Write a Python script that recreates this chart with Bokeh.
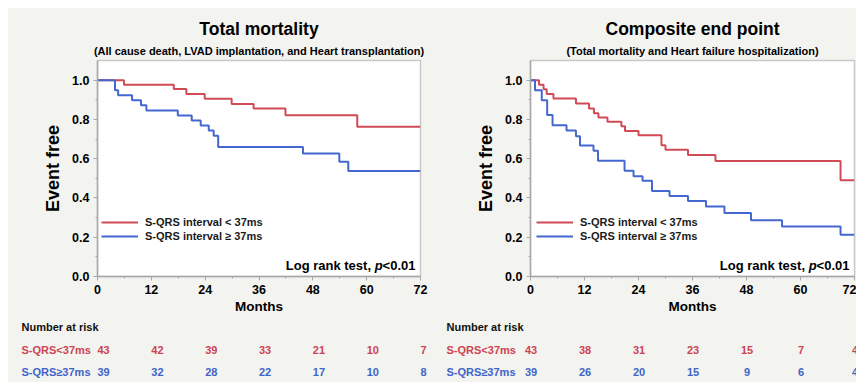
from bokeh.plotting import figure
from bokeh.layouts import row, column
from bokeh.models import (Range1d, Legend, LegendItem, Label, Title, FixedTicker,
                          NumeralTickFormatter, Spacer)
from bokeh.core.properties import value
from bokeh.embed import file_html
from bokeh.resources import INLINE

# ---------------- data ----------------
month_ticks = [0, 12, 24, 36, 48, 60, 72]
month_minor = [6, 18, 30, 42, 54, 66]
surv_ticks = [0.0, 0.2, 0.4, 0.6, 0.8, 1.0]
surv_minor = [0.1, 0.3, 0.5, 0.7, 0.9]

label_low = "S-QRS interval < 37ms"
label_high = "S-QRS interval \u2265 37ms"
risk_low_name = "S-QRS<37ms"
risk_high_name = "S-QRS\u226537ms"

# Total mortality
tm_low_t = [0, 5.9, 17.0, 19.8, 23.9, 29.9, 34.8, 41.9, 57.9, 72]
tm_low_s = [1.0, 0.977, 0.955, 0.929, 0.905, 0.879, 0.855, 0.821, 0.762, 0.762]
tm_high_t = [0, 3.9, 4.6, 7.7, 9.7, 10.9, 17.9, 21.0, 23.0, 24.8, 25.9, 26.9, 45.8, 53.9, 55.9, 72]
tm_high_s = [1.0, 0.949, 0.923, 0.897, 0.872, 0.846, 0.820, 0.794, 0.769, 0.743, 0.717, 0.660,
             0.626, 0.585, 0.537, 0.537]
tm_risk_low = [43, 42, 39, 33, 21, 10, 7]
tm_risk_high = [39, 32, 28, 22, 17, 10, 8]

# Composite end point
ce_low_t = [0, 1.9, 2.9, 3.6, 5.1, 10.1, 13.0, 14.1, 15.1, 17.1, 20.2, 21.0, 24.0, 29.1, 30.0,
            35.0, 41.1, 68.9, 72]
ce_low_s = [1.0, 0.977, 0.954, 0.930, 0.907, 0.881, 0.856, 0.831, 0.810, 0.788, 0.765, 0.741,
            0.719, 0.669, 0.645, 0.619, 0.588, 0.490, 0.490]
ce_high_t = [0, 1.0, 2.5, 3.7, 4.9, 8.0, 10.1, 11.0, 14.0, 15.0, 20.9, 22.9, 24.9, 27.0, 30.9,
             35.0, 39.0, 43.1, 49.0, 55.9, 68.9, 72]
ce_high_s = [1.0, 0.949, 0.897, 0.823, 0.770, 0.744, 0.714, 0.667, 0.641, 0.590, 0.538, 0.510,
             0.487, 0.436, 0.410, 0.385, 0.356, 0.323, 0.287, 0.254, 0.212, 0.212]
ce_risk_low = [43, 38, 31, 23, 15, 7, 4]
ce_risk_high = [39, 26, 20, 15, 9, 6, 4]

# ---------------- style ----------------
BG = "#f3f3f0"
RED = "#d14b56"
BLUE = "#4467d0"
RED_T = "#cc4452"
BLUE_T = "#3f64c8"
FONT = "Liberation Sans"
AX = "#a8a8a8"


def main_panel(title, subtitle, lt, ls, ht, hs, width, bl, br, legend_x):
    p = figure(width=width, height=308, x_range=Range1d(0, 72), y_range=Range1d(0, 1.1),
               output_backend="svg", toolbar_location=None,
               min_border_left=bl, min_border_right=br, min_border_top=52, min_border_bottom=39,
               background_fill_color="white", border_fill_color=BG,
               outline_line_color="#c9c9c9", outline_line_width=1.5)
    p.add_layout(Title(text=subtitle, align="center", text_font=FONT, text_font_size="11px",
                       text_font_style="bold", text_color="black", standoff=8), "above")
    p.add_layout(Title(text=title, align="center", text_font=FONT, text_font_size="17.5px",
                       text_font_style="bold", text_color="black", standoff=0), "above")
    p.xgrid.visible = False
    p.ygrid.visible = False
    p.xaxis.ticker = FixedTicker(ticks=month_ticks, minor_ticks=month_minor)
    p.yaxis.ticker = FixedTicker(ticks=surv_ticks, minor_ticks=surv_minor)
    p.yaxis.formatter = NumeralTickFormatter(format="0.0")
    for ax in (p.xaxis[0], p.yaxis[0]):
        ax.axis_line_color = AX
        ax.axis_line_width = 1.5
        ax.major_tick_line_color = AX
        ax.minor_tick_line_color = AX
        ax.major_tick_out = 4
        ax.major_tick_in = 0
        ax.minor_tick_out = 2
        ax.minor_tick_in = 0
        ax.major_label_text_font = FONT
        ax.major_label_text_font_size = "12.5px"
        ax.major_label_text_font_style = "bold"
        ax.major_label_text_color = "black"
        ax.major_label_standoff = 4
        ax.axis_label_text_font = FONT
        ax.axis_label_text_font_style = "bold"
        ax.axis_label_text_color = "black"
    p.xaxis.axis_label = "Months"
    p.xaxis.axis_label_text_font_size = "13.5px"
    p.xaxis.axis_label_standoff = 2
    p.yaxis.axis_label = "Event free"
    p.yaxis.axis_label_text_font_size = "18px"
    p.yaxis.axis_label_standoff = 6

    r_low = p.step(lt, ls, mode="after", line_width=2, line_color=RED)
    r_high = p.step(ht, hs, mode="after", line_width=2, line_color=BLUE)

    leg = Legend(items=[LegendItem(label=label_low, renderers=[r_low]),
                        LegendItem(label=label_high, renderers=[r_high])],
                 location=(legend_x, 33), padding=0, margin=0, spacing=0,
                 glyph_width=37, glyph_height=14, label_height=14, label_standoff=7,
                 background_fill_alpha=0, border_line_alpha=0,
                 label_text_font=FONT, label_text_font_size="11px",
                 label_text_font_style="bold", label_text_color="#1a1a1a")
    p.add_layout(leg, "center")

    fs = "13px"
    p.add_layout(Label(x=72, y=0, x_offset=-5, y_offset=11, text="<0.01", text_align="right",
                       text_baseline="middle", text_font=FONT, text_font_size=fs,
                       text_font_style="bold", text_color="black"))
    p.add_layout(Label(x=72, y=0, x_offset=-37.9, y_offset=11, text="p", text_align="right",
                       text_baseline="middle", text_font=FONT, text_font_size=fs,
                       text_font_style="bold italic", text_color="black"))
    p.add_layout(Label(x=72, y=0, x_offset=-49.5, y_offset=11, text="Log rank test,",
                       text_align="right", text_baseline="middle", text_font=FONT,
                       text_font_size=fs, text_font_style="bold", text_color="black"))
    return p


def risk_panel(width, bl, br, frame_w, low, high, align, dx):
    k = 72.0 / frame_w
    xs = -bl * k
    xe = 72 + br * k
    p = figure(width=width, height=66, x_range=Range1d(xs, xe), y_range=Range1d(2.456, -0.491),
               output_backend="svg", toolbar_location=None, min_border=0,
               min_border_left=0, min_border_right=0, min_border_top=0, min_border_bottom=0,
               x_axis_location=None, y_axis_location=None, frame_align=False,
               background_fill_color=BG, border_fill_color=BG, outline_line_color=None)
    p.xgrid.visible = False
    p.ygrid.visible = False
    lab_x = xs + 13 * k
    common = dict(text_font=value(FONT), text_font_size="11px", text_font_style="bold",
                  text_baseline="middle")
    p.text(x=[lab_x], y=[0], text=["Number at risk"], text_color="#111111", text_align="left",
           **common)
    p.text(x=[lab_x], y=[1], text=[risk_low_name], text_color=RED_T, text_align="left", **common)
    p.text(x=[lab_x], y=[2], text=[risk_high_name], text_color=BLUE_T, text_align="left", **common)
    xt = [t + dx * k for t in month_ticks]
    p.text(x=xt, y=[1] * len(low), text=[str(v) for v in low], text_color=RED_T,
           text_align=align, **common)
    p.text(x=xt, y=[2] * len(high), text=[str(v) for v in high], text_color=BLUE_T,
           text_align=align, **common)
    return p


LW, LBL, LBR = 425, 89, 13
RW, RBL, RBR = 423, 97, 2

p1 = main_panel("Total mortality",
                "(All cause death, LVAD implantation, and Heart transplantation)",
                tm_low_t, tm_low_s, tm_high_t, tm_high_s, LW, LBL, LBR, 4)
p2 = main_panel("Composite end point",
                "(Total mortality and Heart failure hospitalization)",
                ce_low_t, ce_low_s, ce_high_t, ce_high_s, RW, RBL, RBR, 6)
t1 = risk_panel(LW, LBL, LBR, LW - LBL - LBR, tm_risk_low, tm_risk_high, "left", 0)
t2 = risk_panel(RW, RBL, RBR, RW - RBL - RBR, ce_risk_low, ce_risk_high, "center", 0.5)

bgstyle = {"background-color": BG}
grid = row(column(p1, t1, styles=bgstyle), column(p2, t2, styles=bgstyle), styles=bgstyle)
layout = column(Spacer(height=8, width=856), row(Spacer(width=8, height=374), grid))
open("out.html", "w").write(file_html(layout, INLINE))
